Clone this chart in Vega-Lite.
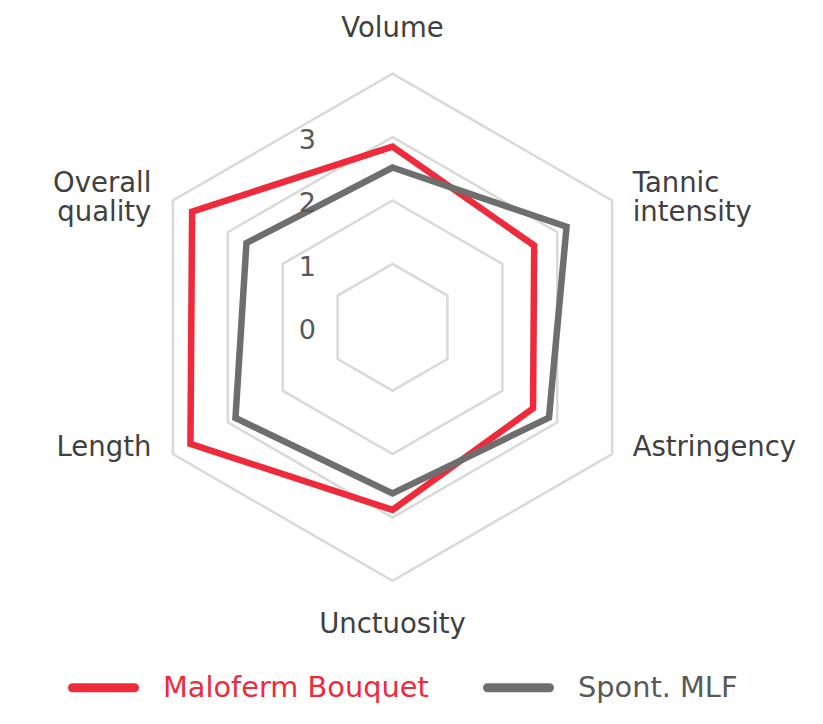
{
  "$schema": "https://vega.github.io/schema/vega-lite/v6.json",
  "width": 823,
  "height": 724,
  "autosize": "none",
  "padding": 0,
  "background": "white",
  "config": {"view": {"stroke": null}, "font": "DejaVu Sans"},
  "datasets": {
    "scores": [
      {"series": "Maloferm Bouquet", "axis": "Volume", "value": 2.85},
      {"series": "Maloferm Bouquet", "axis": "Tannic intensity", "value": 2.58},
      {"series": "Maloferm Bouquet", "axis": "Astringency", "value": 2.56},
      {"series": "Maloferm Bouquet", "axis": "Unctuosity", "value": 2.88},
      {"series": "Maloferm Bouquet", "axis": "Length", "value": 3.68},
      {"series": "Maloferm Bouquet", "axis": "Overall quality", "value": 3.65},
      {"series": "Spont. MLF", "axis": "Volume", "value": 2.52},
      {"series": "Spont. MLF", "axis": "Tannic intensity", "value": 3.17},
      {"series": "Spont. MLF", "axis": "Astringency", "value": 2.85},
      {"series": "Spont. MLF", "axis": "Unctuosity", "value": 2.62},
      {"series": "Spont. MLF", "axis": "Length", "value": 2.86},
      {"series": "Spont. MLF", "axis": "Overall quality", "value": 2.66}
    ],
    "grid": [
      {"level": 1, "axis": "Volume"}, {"level": 1, "axis": "Tannic intensity"}, {"level": 1, "axis": "Astringency"},
      {"level": 1, "axis": "Unctuosity"}, {"level": 1, "axis": "Length"}, {"level": 1, "axis": "Overall quality"},
      {"level": 2, "axis": "Volume"}, {"level": 2, "axis": "Tannic intensity"}, {"level": 2, "axis": "Astringency"},
      {"level": 2, "axis": "Unctuosity"}, {"level": 2, "axis": "Length"}, {"level": 2, "axis": "Overall quality"},
      {"level": 3, "axis": "Volume"}, {"level": 3, "axis": "Tannic intensity"}, {"level": 3, "axis": "Astringency"},
      {"level": 3, "axis": "Unctuosity"}, {"level": 3, "axis": "Length"}, {"level": 3, "axis": "Overall quality"},
      {"level": 4, "axis": "Volume"}, {"level": 4, "axis": "Tannic intensity"}, {"level": 4, "axis": "Astringency"},
      {"level": 4, "axis": "Unctuosity"}, {"level": 4, "axis": "Length"}, {"level": 4, "axis": "Overall quality"}
    ],
    "ticks": [{"value": 0}, {"value": 1}, {"value": 2}, {"value": 3}]
  },
  "layer": [
    {
      "data": {"name": "grid"},
      "transform": [
        {"calculate": "indexof(['Volume','Tannic intensity','Astringency','Unctuosity','Length','Overall quality'], datum.axis)", "as": "idx"},
        {"calculate": "datum.level * sin(datum.idx * PI / 3)", "as": "x"},
        {"calculate": "datum.level * cos(datum.idx * PI / 3)", "as": "y"}
      ],
      "mark": {"type": "line", "interpolate": "linear-closed", "stroke": "#d9d9d9", "strokeWidth": 2.5},
      "encoding": {
        "x": {"field": "x", "type": "quantitative", "axis": null, "scale": {"domain": [-6.191, 6.79], "nice": false, "zero": false}},
        "y": {"field": "y", "type": "quantitative", "axis": null, "scale": {"domain": [-6.257, 5.162], "nice": false, "zero": false}},
        "detail": {"field": "level", "type": "nominal"},
        "order": {"field": "idx", "type": "quantitative"}
      }
    },
    {
      "data": {"name": "scores"},
      "transform": [
        {"calculate": "indexof(['Volume','Tannic intensity','Astringency','Unctuosity','Length','Overall quality'], datum.axis)", "as": "idx"},
        {"calculate": "datum.value * sin(datum.idx * PI / 3)", "as": "x"},
        {"calculate": "datum.value * cos(datum.idx * PI / 3)", "as": "y"}
      ],
      "mark": {"type": "line", "interpolate": "linear-closed", "strokeWidth": 6.5},
      "encoding": {
        "x": {"field": "x", "type": "quantitative", "axis": null, "scale": {"domain": [-6.191, 6.79], "nice": false, "zero": false}},
        "y": {"field": "y", "type": "quantitative", "axis": null, "scale": {"domain": [-6.257, 5.162], "nice": false, "zero": false}},
        "order": {"field": "idx", "type": "quantitative"},
        "color": {
          "field": "series",
          "type": "nominal",
          "scale": {"domain": ["Maloferm Bouquet", "Spont. MLF"], "range": ["#ee2a3b", "#6e6e6e"]},
          "legend": {
            "title": null,
            "orient": "none",
            "legendX": 68,
            "legendY": 652,
            "direction": "horizontal",
            "symbolType": "stroke",
            "symbolSize": 3844,
            "symbolStrokeWidth": 9,
            "labelFont": "DejaVu Sans",
            "labelFontSize": 28.8,
            "labelOffset": 24,
            "labelLimit": 400,
            "columnPadding": 40,
            "encode": {
              "symbols": {"update": {"strokeCap": {"value": "round"}}},
              "labels": {"update": {"fill": {"signal": "datum.value === 'Maloferm Bouquet' ? '#ee2a3b' : '#595959'"}}}
            }
          }
        }
      }
    },
    {
      "data": {"name": "ticks"},
      "mark": {"type": "text", "align": "right", "baseline": "alphabetic", "dx": -76.5, "dy": 12, "fontSize": 27, "color": "#595959"},
      "encoding": {
        "x": {"datum": 0, "type": "quantitative", "scale": {"domain": [-6.191, 6.79], "nice": false, "zero": false}},
        "y": {"field": "value", "type": "quantitative", "scale": {"domain": [-6.257, 5.162], "nice": false, "zero": false}},
        "text": {"field": "value", "type": "quantitative"}
      }
    },
    {
      "data": {"name": "grid"},
      "transform": [
        {"filter": "datum.level === 4 && datum.axis === 'Volume'"},
        {"calculate": "datum.level * sin(0)", "as": "x"},
        {"calculate": "datum.level * cos(0)", "as": "y"}
      ],
      "mark": {"type": "text", "align": "center", "baseline": "alphabetic", "dy": -36.6, "fontSize": 27.5, "color": "#404040"},
      "encoding": {
        "x": {"field": "x", "type": "quantitative", "scale": {"domain": [-6.191, 6.79], "nice": false, "zero": false}},
        "y": {"field": "y", "type": "quantitative", "scale": {"domain": [-6.257, 5.162], "nice": false, "zero": false}},
        "text": {"field": "axis"}
      }
    },
    {
      "data": {"name": "grid"},
      "transform": [
        {"filter": "datum.level === 4 && datum.axis === 'Unctuosity'"},
        {"calculate": "datum.level * sin(PI)", "as": "x"},
        {"calculate": "datum.level * cos(PI)", "as": "y"}
      ],
      "mark": {"type": "text", "align": "center", "baseline": "alphabetic", "dy": 52, "fontSize": 27.5, "color": "#404040"},
      "encoding": {
        "x": {"field": "x", "type": "quantitative", "scale": {"domain": [-6.191, 6.79], "nice": false, "zero": false}},
        "y": {"field": "y", "type": "quantitative", "scale": {"domain": [-6.257, 5.162], "nice": false, "zero": false}},
        "text": {"field": "axis"}
      }
    },
    {
      "data": {"name": "grid"},
      "transform": [
        {"filter": "datum.level === 4 && datum.axis === 'Tannic intensity'"},
        {"calculate": "datum.level * sin(PI / 3)", "as": "x"},
        {"calculate": "datum.level * cos(PI / 3)", "as": "y"}
      ],
      "mark": {"type": "text", "align": "left", "baseline": "alphabetic", "dx": 20.5, "dy": -8, "fontSize": 27.5, "lineBreak": " ", "lineHeight": 29, "color": "#404040"},
      "encoding": {
        "x": {"field": "x", "type": "quantitative", "scale": {"domain": [-6.191, 6.79], "nice": false, "zero": false}},
        "y": {"field": "y", "type": "quantitative", "scale": {"domain": [-6.257, 5.162], "nice": false, "zero": false}},
        "text": {"field": "axis"}
      }
    },
    {
      "data": {"name": "grid"},
      "transform": [
        {"filter": "datum.level === 4 && datum.axis === 'Astringency'"},
        {"calculate": "datum.level * sin(2 * PI / 3)", "as": "x"},
        {"calculate": "datum.level * cos(2 * PI / 3)", "as": "y"}
      ],
      "mark": {"type": "text", "align": "left", "baseline": "alphabetic", "dx": 20.5, "dy": 2.4, "fontSize": 27.5, "color": "#404040"},
      "encoding": {
        "x": {"field": "x", "type": "quantitative", "scale": {"domain": [-6.191, 6.79], "nice": false, "zero": false}},
        "y": {"field": "y", "type": "quantitative", "scale": {"domain": [-6.257, 5.162], "nice": false, "zero": false}},
        "text": {"field": "axis"}
      }
    },
    {
      "data": {"name": "grid"},
      "transform": [
        {"filter": "datum.level === 4 && datum.axis === 'Length'"},
        {"calculate": "datum.level * sin(4 * PI / 3)", "as": "x"},
        {"calculate": "datum.level * cos(4 * PI / 3)", "as": "y"}
      ],
      "mark": {"type": "text", "align": "right", "baseline": "alphabetic", "dx": -21.5, "dy": 2.4, "fontSize": 27.5, "color": "#404040"},
      "encoding": {
        "x": {"field": "x", "type": "quantitative", "scale": {"domain": [-6.191, 6.79], "nice": false, "zero": false}},
        "y": {"field": "y", "type": "quantitative", "scale": {"domain": [-6.257, 5.162], "nice": false, "zero": false}},
        "text": {"field": "axis"}
      }
    },
    {
      "data": {"name": "grid"},
      "transform": [
        {"filter": "datum.level === 4 && datum.axis === 'Overall quality'"},
        {"calculate": "datum.level * sin(5 * PI / 3)", "as": "x"},
        {"calculate": "datum.level * cos(5 * PI / 3)", "as": "y"}
      ],
      "mark": {"type": "text", "align": "right", "baseline": "alphabetic", "dx": -21.5, "dy": -8, "fontSize": 27.5, "lineBreak": " ", "lineHeight": 29, "color": "#404040"},
      "encoding": {
        "x": {"field": "x", "type": "quantitative", "scale": {"domain": [-6.191, 6.79], "nice": false, "zero": false}},
        "y": {"field": "y", "type": "quantitative", "scale": {"domain": [-6.257, 5.162], "nice": false, "zero": false}},
        "text": {"field": "axis"}
      }
    }
  ]
}
